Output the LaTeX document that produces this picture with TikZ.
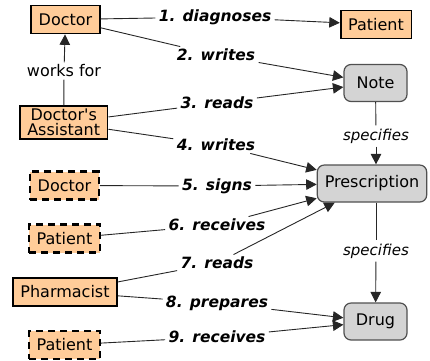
\documentclass[tikz,border=0pt]{standalone}
\usepackage{fontspec}
\setmainfont{DejaVu Sans}
\usetikzlibrary{arrows.meta}

\definecolor{peach}{HTML}{FFCC99}
\definecolor{boxgray}{HTML}{D4D4D4}
\definecolor{edgegray}{HTML}{505050}
\newcommand{\fsz}[1]{\fontsize{#1}{#1}\selectfont}

\tikzset{
  concept/.style={draw=black, line width=1.7pt, fill=peach, font=\fsz{16},
    inner xsep=7.5pt, inner ysep=2pt, minimum height=28pt},
  ghost/.style={concept, line width=2.1pt, dash pattern=on 7pt off 5pt},
  thing/.style={draw=edgegray, line width=1.2pt, fill=boxgray, font=\fsz{16},
    rounded corners=7pt, inner xsep=7.5pt, minimum width=63pt, minimum height=37pt},
  link/.style={font=\fsz{15.5}\bfseries\itshape, inner xsep=3pt, inner ysep=2pt},
  note/.style={font=\fsz{15}\itshape, inner sep=3pt},
}

\begin{document}
\begin{tikzpicture}[x=1pt, y=-1pt, line width=0.9pt,
  >={Triangle[length=10.5pt,width=10.5pt]}]
\useasboundingbox (0,0) rectangle (430,360);

% people
\node[concept] (doc)   at (65.5,19.5) {Doctor};
\node[concept, align=center, inner ysep=3pt] (asst) at (63.7,122.7) {Doctor\textquotesingle s\\[-1pt]Assistant};
\node[ghost]   (doc2)  at (64.5,185.5) {Doctor};
\node[ghost]   (pat2)  at (64.5,238.5) {Patient};
\node[concept] (pharm) at (65,292) {Pharmacist};
\node[ghost]   (pat3)  at (64.5,345) {Patient};

% things
\node[concept] (pat)   at (376,24.5) {Patient};
\node[thing]   (note)  at (375.5,83) {Note};
\node[thing]   (presc) at (372,183.5) {Prescription};
\node[thing]   (drug)  at (375.5,321.5) {Drug};

% relations
\foreach \n/\x/\y/\t in {l1/215/17/1. diagnoses, l2/216/55/2. writes,
    l3/217/103/3. reads, l4/216/145/4. writes, l5/217/186/5. signs,
    l6/217/225/6. receives, l7/217/263/7. reads, l8/217/303/8. prepares,
    l9/217/337/9. receives}
  \node[link] (\n) at (\x,\y) {\t};

\foreach \s/\l/\d in {doc/l1/pat, doc/l2/note, asst/l3/note, asst/l4/presc,
    doc2/l5/presc, pat2/l6/presc, pharm/l7/presc, pharm/l8/drug, pat3/l9/drug} {
  \draw[black!85] (\s) -- (\l);
  \draw[black!85, ->] (\l) -- (\d);
}

% vertical links
\node[note, font=\fsz{16}, inner sep=2pt] (works) at (64,71) {works for};
\draw[black!85] (asst) -- (works);
\draw[black!85, ->] (works) -- (doc);
\node[note] (spec1) at (376,136) {specifies};
\node[note] (spec2) at (376,251) {specifies};
\draw[black!85] (note) -- (spec1);
\draw[black!85, ->] (spec1) -- (spec1 |- presc.north);
\draw[black!85] (spec1 |- presc.south) -- (spec2);
\draw[black!85, ->] (spec2) -- (drug);
\end{tikzpicture}
\end{document}
